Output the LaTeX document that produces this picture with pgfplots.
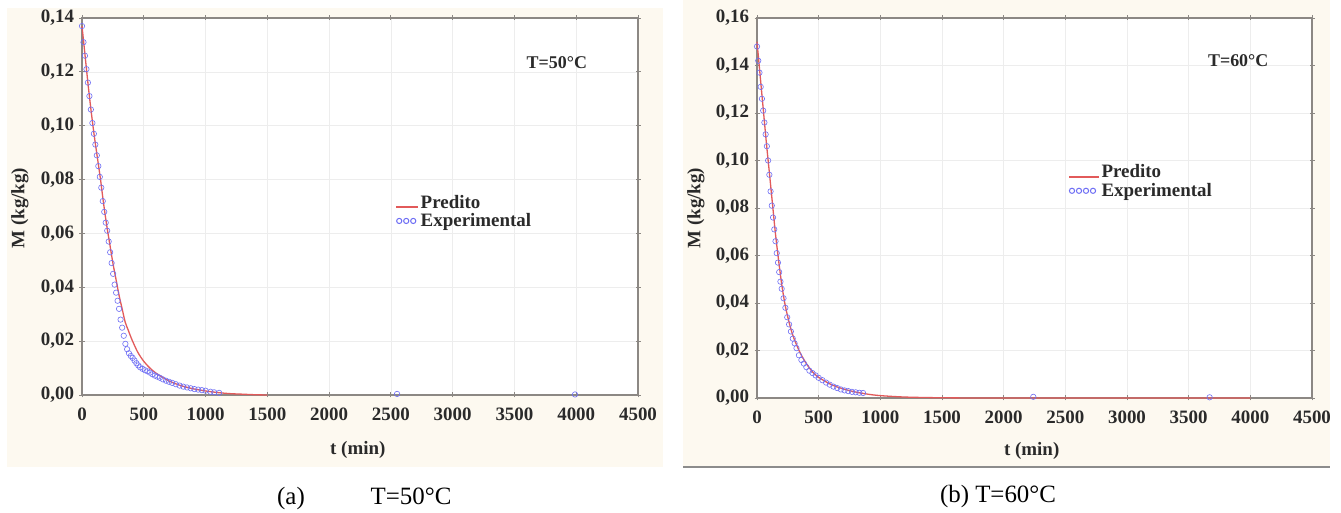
\documentclass[border=0pt]{standalone}
\usepackage{fontspec}
\setmainfont{Liberation Serif}
\usepackage{pgfplots}
\pgfplotsset{compat=1.18}
\definecolor{cream}{HTML}{FDF9F0}
\definecolor{predred}{HTML}{E25A5A}
\definecolor{expblue}{HTML}{6E6EF5}
\definecolor{framegray}{HTML}{8C8884}
\definecolor{txt}{HTML}{2A2A2A}
\pgfplotsset{
  panel/.style={
    scale only axis,
    anchor=south west,
    xmin=0, xmax=4500, ymin=0,
    xtick={0,500,...,4500},
    clip=false,
    axis background/.style={fill=white},
    axis line style={draw=framegray, line width=1.6bp},
    grid=major,
    grid style={draw=black!7, line width=0.7bp},
    tick align=center,
    major tick length=5bp,
    tick style={draw=framegray, line width=0.8bp},
    ticklabel style={font=\fontsize{19}{22}\selectfont\bfseries, text=txt},
    xticklabel shift=7bp,
    yticklabel shift=2bp,
    /pgf/number format/assume math mode=true,
    x tick label style={/pgf/number format/.cd, fixed, precision=0, 1000 sep={}, assume math mode=true},
    y tick label style={/pgf/number format/.cd, fixed, fixed zerofill, precision=2, use comma, assume math mode=true},
    xlabel={t (min)}, ylabel={M (kg/kg)},
    label style={font=\fontsize{19}{22}\selectfont\bfseries, text=txt},
    legend cell align=left,
    legend style={draw=none, fill=none, anchor=north west, inner sep=0pt,
      row sep=1bp, font=\fontsize{19}{22}\selectfont\bfseries,
      nodes={inner sep=1.5bp, text=txt}},
  },
  predline/.style={color=predred, line width=1.3bp, no marks, smooth},
  expmarks/.style={only marks, mark=o, mark size=2.7bp, color=expblue, mark options={line width=0.6bp}},
}
\begin{document}
\begin{tikzpicture}
\path[use as bounding box] (0bp,0bp) rectangle (1341bp,513bp);
\fill[cream] (7bp,46bp) rectangle (663bp,505bp);
\fill[cream] (683bp,46bp) rectangle (1330bp,513bp);
\draw[black!45, line width=2bp] (683bp,46bp) -- (1330bp,46bp);

% (a) T=50 C
\begin{axis}[panel, at={(82bp,118bp)}, width=556bp, height=377bp,
  ymax=0.14, ytick={0,0.02,...,0.14},
  xlabel style={at={(axis description cs:0.496,-0.146)}, anchor=center},
  ylabel style={at={(axis description cs:-0.1115,0.496)}, anchor=center},
  legend style={at={(0.563,0.535)}}]
\addplot[predline, legend image code/.code={\draw[predred, line width=2bp] (0bp,-5bp) -- (22bp,-5bp);}] coordinates {
(0,0.137) (25,0.126) (50,0.115) (75,0.105) (100,0.096) (125,0.088) (150,0.080)
(175,0.071) (200,0.063) (225,0.056) (250,0.049) (275,0.043) (300,0.037)
(325,0.032) (350,0.027) (375,0.024) (400,0.021) (450,0.016) (500,0.0125)
(550,0.0100) (600,0.0081) (700,0.0053) (800,0.0035) (900,0.0023) (1000,0.0015)
(1100,0.0009) (1200,0.0005) (1300,0.0003) (1400,0.0001) (1500,0.0)};
\addlegendentry{Predito}
\addplot[expmarks, legend image code/.code={\foreach \xx in {3,10,17}{\draw[expblue, line width=1bp] (\xx bp,0bp) circle (2.6bp);}}] coordinates {
(0,0.137) (12,0.131) (24,0.126) (36,0.121) (48,0.116) (60,0.111) (72,0.106)
(84,0.101) (96,0.097) (108,0.093) (120,0.089) (132,0.085) (144,0.081)
(156,0.077) (168,0.072) (180,0.068) (192,0.064) (204,0.061) (216,0.057)
(228,0.053) (240,0.049) (252,0.045) (264,0.041) (276,0.038) (288,0.035)
(300,0.032) (312,0.028) (325,0.025) (338,0.022) (351,0.019) (365,0.017)
(380,0.0155) (395,0.0145) (410,0.0138) (425,0.0128) (440,0.0118) (455,0.0110)
(470,0.0103) (490,0.0097) (510,0.0092) (530,0.0088) (550,0.0083) (570,0.0077)
(590,0.0072) (610,0.0068) (630,0.0064) (655,0.0058) (680,0.0053) (705,0.0049)
(730,0.0045) (760,0.0040) (790,0.0035) (820,0.0031) (850,0.0028) (880,0.0025)
(910,0.0022) (940,0.0020) (970,0.0018) (1000,0.0016) (1040,0.0012)
(1070,0.0010) (1110,0.0008) (2550,0.0004) (3990,0.0002)};
\addlegendentry{Experimental}
\node[font=\fontsize{18}{20}\selectfont\bfseries, text=txt] at (rel axis cs:0.854,0.882) {T=50°C};
\end{axis}

% (b) T=60 C
\begin{axis}[panel, at={(757bp,115bp)}, width=555bp, height=380bp,
  ymax=0.16, ytick={0,0.02,...,0.16},
  xlabel style={at={(axis description cs:0.495,-0.139)}, anchor=center},
  ylabel style={at={(axis description cs:-0.11,0.5)}, anchor=center},
  legend style={at={(0.56,0.618)}}]
\addplot[predline, legend image code/.code={\draw[predred, line width=2bp] (0bp,-5bp) -- (30bp,-5bp);}] coordinates {
(0,0.150) (25,0.136) (50,0.122) (75,0.108) (100,0.095) (125,0.082) (150,0.069)
(175,0.058) (200,0.048) (225,0.040) (250,0.034) (275,0.029) (300,0.025)
(350,0.019) (400,0.0145) (450,0.011) (500,0.0087) (600,0.0057) (700,0.0038)
(800,0.0025) (900,0.0016) (1000,0.0010) (1200,0.0004) (1500,0.0001)
(2000,0.0) (4000,0.0)};
\addlegendentry{Predito}
\addplot[expmarks, legend image code/.code={\foreach \xx in {3,10,17,24}{\draw[expblue, line width=1bp] (\xx bp,0bp) circle (2.6bp);}}] coordinates {
(0,0.148) (10,0.142) (20,0.137) (30,0.131) (40,0.126) (50,0.121) (60,0.116)
(70,0.111) (80,0.106) (90,0.100) (100,0.094) (110,0.087) (120,0.081)
(130,0.076) (140,0.071) (150,0.066) (160,0.061) (170,0.057) (180,0.053)
(190,0.049) (200,0.046) (215,0.042) (230,0.038) (245,0.034) (260,0.031)
(275,0.028) (290,0.025) (305,0.023) (320,0.021) (340,0.018) (360,0.016)
(380,0.0145) (400,0.013) (425,0.0115) (450,0.0105) (475,0.0095) (500,0.0085)
(530,0.0075) (560,0.0065) (590,0.0056) (620,0.0048) (650,0.0042) (680,0.0036)
(710,0.0032) (740,0.0029) (770,0.0026) (800,0.0024) (830,0.0022) (860,0.0021)
(2240,0.0005) (3670,0.0003)};
\addlegendentry{Experimental}
\node[font=\fontsize{18}{20}\selectfont\bfseries, text=txt] at (rel axis cs:0.867,0.889) {T=60°C};
\end{axis}

\node[anchor=base, font=\fontsize{25}{28}\selectfont] at (291bp,9bp) {(a)};
\node[anchor=base, font=\fontsize{25}{28}\selectfont] at (411bp,9bp) {T=50°C};
\node[anchor=base, font=\fontsize{25}{28}\selectfont] at (998bp,11bp) {(b) T=60°C};
\end{tikzpicture}
\end{document}
